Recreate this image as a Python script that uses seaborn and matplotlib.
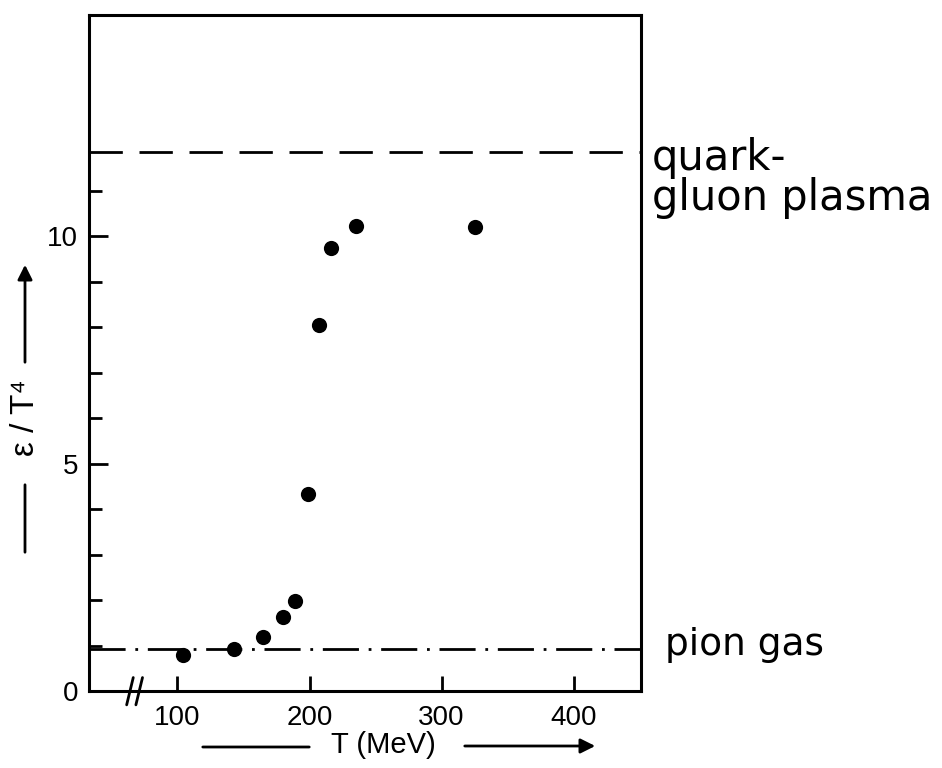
import numpy as np
import pandas as pd
import matplotlib
matplotlib.use('Agg')
import matplotlib.pyplot as plt
import seaborn as sns

# energy density points
T_MeV = [104, 143, 165, 180, 189, 199, 207, 216, 235, 325]
eps_T4 = [0.80, 0.93, 1.18, 1.63, 1.99, 4.34, 8.05, 9.74, 10.23, 10.20]

# ideal gas limits
qgp_limit = 11.85
pion_limit = 0.93

x_ticks = [100, 200, 300, 400]
y_ticks = [0, 5, 10]
y_minor = [1, 2, 3, 4, 6, 7, 8, 9, 11]

df = pd.DataFrame({'T': T_MeV, 'eps': eps_T4})

sns.set_style('ticks')
plt.rcParams['font.family'] = ['Liberation Sans', 'DejaVu Sans']
plt.rcParams['text.color'] = 'black'
plt.rcParams['xtick.color'] = 'black'
plt.rcParams['ytick.color'] = 'black'

W, H = 942, 768
fig = plt.figure(figsize=(W / 100, H / 100), dpi=100)
ax = fig.add_axes([0.0945, 0.100, 0.586, 0.880])

sns.scatterplot(data=df, x='T', y='eps', color='black', s=120,
                linewidth=0, ax=ax, zorder=3)
ax.axhline(qgp_limit, color='black', lw=2, ls=(0, (12, 6)))
ax.axhline(pion_limit, color='black', lw=2, ls=(0, (13, 3.5, 1, 3.5)))

ax.set_xlim(33, 451)
ax.set_ylim(0, 14.85)
ax.set_xticks(x_ticks)
ax.set_yticks(y_ticks)
ax.set_yticks(y_minor, minor=True)
ax.set_xlabel('')
ax.set_ylabel('')
for s in ax.spines.values():
    s.set_visible(True)
    s.set_linewidth(2.2)
    s.set_color('black')
ax.tick_params(axis='x', which='major', direction='in', length=11, width=2,
               labelsize=20, pad=10, labelcolor='black')
ax.tick_params(axis='y', which='major', direction='in', length=14, width=2,
               labelsize=20, pad=8, labelcolor='black')
ax.tick_params(axis='y', which='minor', direction='in', length=9, width=2)

# axis break marks
for xb in [64, 71]:
    ax.plot([xb - 2.5, xb + 2.5], [-0.3, 0.3], color='black', lw=2,
            clip_on=False, zorder=5)

def fx(px):
    return px / W

def fy(py):
    return 1 - py / H

# x label with arrow
fig.text(fx(383), fy(745), 'T (MeV)', ha='center', va='center', fontsize=21)
ax.annotate('', xy=(fx(312), fy(747)), xytext=(fx(200), fy(747)),
            xycoords='figure fraction', textcoords='figure fraction',
            arrowprops=dict(arrowstyle='-', lw=2, color='black'))
ax.annotate('', xy=(fx(598), fy(746)), xytext=(fx(462), fy(746)),
            xycoords='figure fraction', textcoords='figure fraction',
            arrowprops=dict(arrowstyle='-|>', lw=2, color='black',
                            mutation_scale=22))

# y label with arrow
fig.text(fx(25), fy(418), 'ε / T⁴', ha='center', va='center', fontsize=24,
         rotation=90)
ax.annotate('', xy=(fx(25), fy(482)), xytext=(fx(25), fy(555)),
            xycoords='figure fraction', textcoords='figure fraction',
            arrowprops=dict(arrowstyle='-', lw=2, color='black'))
ax.annotate('', xy=(fx(25), fy(262)), xytext=(fx(25), fy(365)),
            xycoords='figure fraction', textcoords='figure fraction',
            arrowprops=dict(arrowstyle='-|>', lw=2, color='black',
                            mutation_scale=22))

# limit labels
fig.text(fx(652), fy(178), 'quark-\ngluon plasma', ha='left', va='center',
         fontsize=30, linespacing=0.95, family='DejaVu Sans')
fig.text(fx(665), fy(645), 'pion gas', ha='left', va='center',
         fontsize=27, family='DejaVu Sans')

fig.savefig('out.png', dpi=100)
